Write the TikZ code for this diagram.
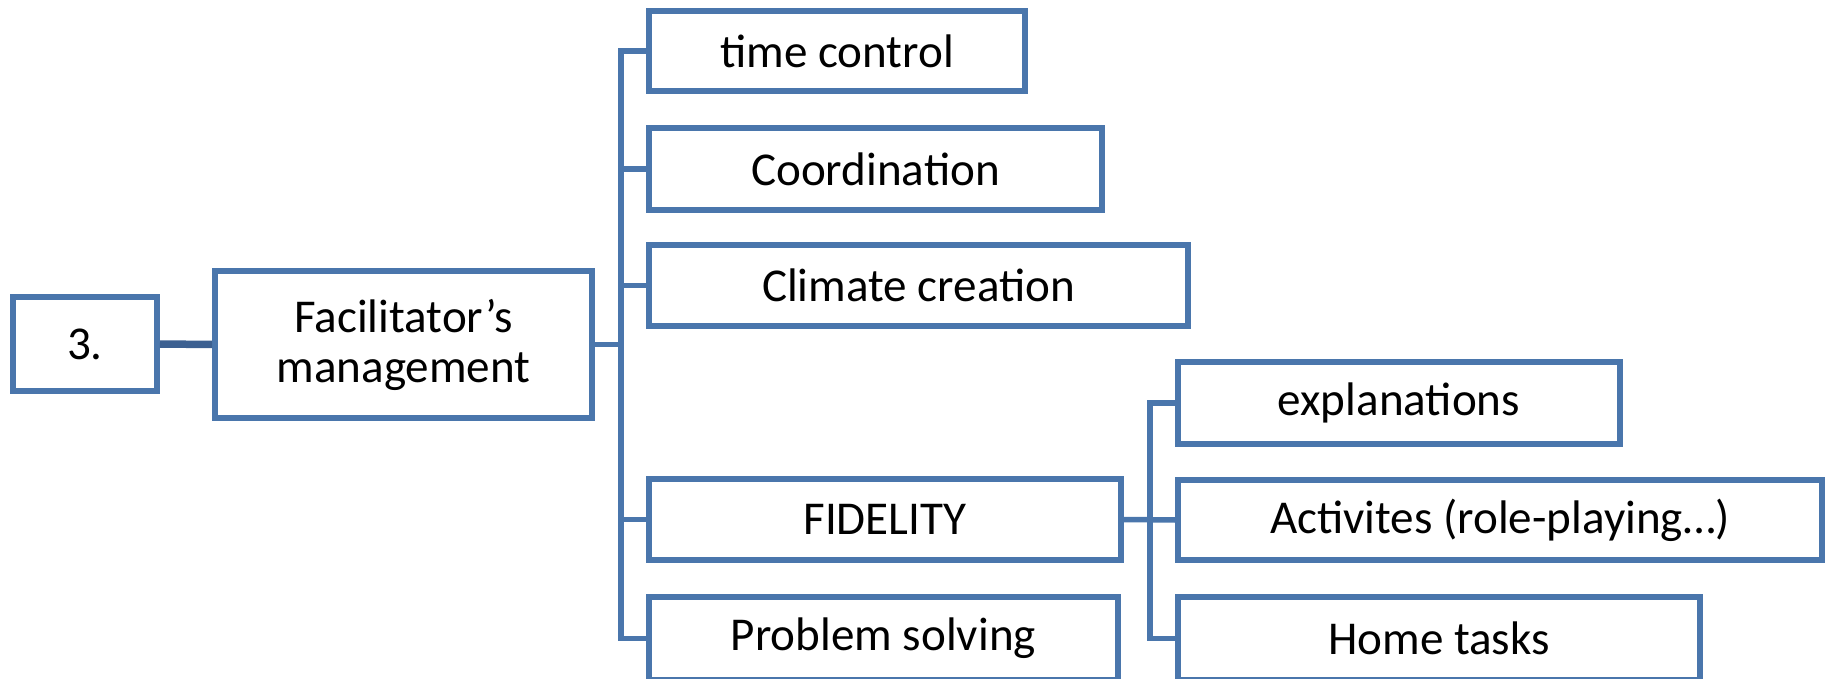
\documentclass[tikz,border=0pt]{standalone}
\usepackage{fontspec}
\setmainfont{Carlito}
\usepackage{tikz}
\usetikzlibrary{calc}
\definecolor{boxblue}{RGB}{74,118,172}
\definecolor{linkdark}{RGB}{60,96,145}
\tikzset{
  box/.style={draw=boxblue, line width=0.12cm, fill=white, rectangle, align=center,
    inner sep=0pt, font=\fontsize{26.8}{28.5}\selectfont},
  link/.style={draw=boxblue, line width=0.11cm},
}

\begin{document}
\begin{tikzpicture}[x=0.02cm, y=-0.02cm]
	\useasboundingbox (0,0) rectangle (1827,679);

	% trunk points
	\coordinate (T) at (621,344.5);
	\coordinate (U) at (1150,519.5);

	% left part
	\node[box, minimum width=2.88cm, minimum height=1.88cm] (N3) at (85,344) {3.};
	\node[box, minimum width=7.54cm, minimum height=2.94cm] (F) at (403.5,344.5) {Facilitator’s\\management};

	% first level
	\node[box, minimum width=7.52cm, minimum height=1.6cm] (TC) at (837,51) {time control};
	\node[box, minimum width=9.06cm, minimum height=1.64cm] (CO) at (875.5,169) {Coordination};
	\node[box, minimum width=10.78cm, minimum height=1.62cm] (CC) at (918.5,285.5) {Climate creation};
	\node[box, minimum width=9.44cm, minimum height=1.62cm] (FI) at (885,519.5) {FIDELITY};
	\node[box, minimum width=9.38cm, minimum height=1.66cm] (PS) at (883.5,638.5) {Problem solving};

	% second level
	\node[box, minimum width=8.84cm, minimum height=1.64cm] (EX) at (1399,403) {explanations};
	\node[box, minimum width=12.88cm, minimum height=1.6cm] (AC) at (1500,520) {Activites (role-playing…)};
	\node[box, minimum width=10.44cm, minimum height=1.66cm] (HT) at (1439,638.5) {Home tasks};

	\draw[draw=linkdark, line width=0.15cm] (N3.east) -- (F.west);
	\draw[link] (F.east) -- (T);
	\foreach \n in {TC,CO,CC,FI,PS}
		\draw[link] (\n.west) -| (T);

	\draw[link] (FI.east) -- (AC.west);
	\foreach \n in {EX,HT}
		\draw[link] (\n.west) -| (U);

\end{tikzpicture}
\end{document}
